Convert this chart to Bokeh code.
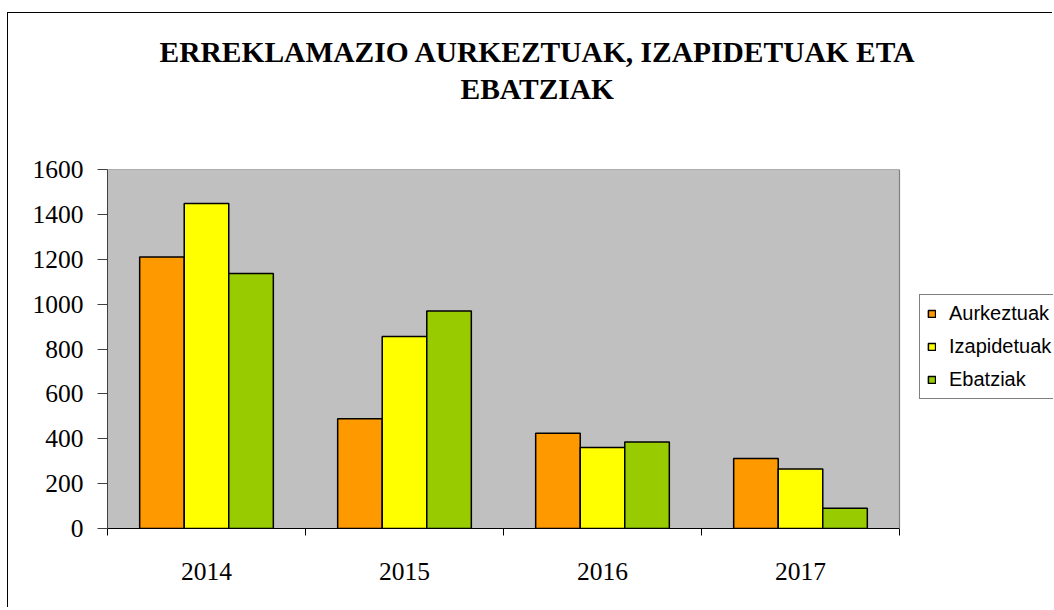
import numpy as np
from bokeh.plotting import figure
from bokeh.models import (Range1d, FixedTicker, Legend, LegendItem, Title, ColumnDataSource,
                          BoxAnnotation, Span)
from bokeh.embed import file_html
from bokeh.resources import INLINE

# ---- data ----
years = ["2014", "2015", "2016", "2017"]
aurkeztuak = [1210, 489, 425, 312]
izapidetuak = [1449, 856, 361, 265]
ebatziak = [1136, 969, 385, 90]
series_names = ["Aurkeztuak", "Izapidetuak", "Ebatziak"]
series_colors = ["#FF9900", "#FFFF00", "#99CC00"]
y_ticks = [0, 200, 400, 600, 800, 1000, 1200, 1400, 1600]
title_line1 = "ERREKLAMAZIO AURKEZTUAK, IZAPIDETUAK ETA"
title_line2 = "EBATZIAK"

n = len(years)
W, H = 1045, 595
left_border = 99
plot_px = 792  # width of the grey plotting area
x_end = n * (W - left_border) / plot_px  # extra room on the right for the legend

p = figure(width=W, height=H, x_range=Range1d(0, x_end), y_range=Range1d(0, 1600),
           output_backend="svg", toolbar_location=None, title_location=None,
           min_border_left=left_border, min_border_right=0, min_border_top=156, min_border_bottom=80)
p.styles = {"border-top": "1px solid black", "border-left": "1px solid black",
            "margin-top": "12px", "margin-left": "7px"}

p.background_fill_color = "white"
p.border_fill_color = "white"
p.outline_line_color = None

# grey plotting area
p.add_layout(BoxAnnotation(left=0, right=n, fill_color="#C0C0C0", fill_alpha=1.0,
                           line_color=None, level="underlay"))
# horizontal grid lines within the plotting area
p.segment(x0=[0] * len(y_ticks), x1=[n] * len(y_ticks), y0=y_ticks, y1=y_ticks,
          line_color="#505050", line_width=1.2, level="underlay")
p.add_layout(Span(location=n, dimension="height", line_color="#808080", line_width=1.2))

centers = np.arange(n) + 0.5
bar_w = 0.225
offsets = [-bar_w, 0.0, bar_w]
renderers = []
for vals, name, col, off in zip([aurkeztuak, izapidetuak, ebatziak], series_names, series_colors, offsets):
    src = ColumnDataSource(dict(x=centers + off, top=vals))
    r = p.vbar(x="x", top="top", bottom=0, width=bar_w, source=src, fill_color=col,
               line_color="black", line_width=1.5)
    renderers.append((name, r))

# y axis
p.yaxis.ticker = FixedTicker(ticks=y_ticks)
p.yaxis.major_tick_out = 10
p.yaxis.major_tick_in = 0
p.yaxis.minor_tick_line_color = None
p.yaxis.axis_line_color = "#404040"
p.yaxis.major_tick_line_color = "#404040"
p.yaxis.major_label_text_font = "Liberation Serif"
p.yaxis.major_label_text_font_size = "25.5px"
p.yaxis.major_label_text_color = "black"
p.yaxis.major_label_standoff = 14

# x axis
p.xaxis.bounds = (0, n)
p.xaxis.ticker = FixedTicker(ticks=list(centers), minor_ticks=list(range(n + 1)))
p.xaxis.major_label_overrides = {float(c): y for c, y in zip(centers, years)}
p.xaxis.major_tick_out = 0
p.xaxis.major_tick_in = 0
p.xaxis.minor_tick_out = 7
p.xaxis.minor_tick_in = 0
p.xaxis.minor_tick_line_color = "black"
p.xaxis.axis_line_color = "black"
p.xaxis.major_label_text_font = "Liberation Serif"
p.xaxis.major_label_text_font_size = "25.5px"
p.xaxis.major_label_text_color = "black"
p.xaxis.major_label_standoff = 27

p.xgrid.visible = False
p.ygrid.visible = False

legend = Legend(items=[LegendItem(label=nm, renderers=[r]) for nm, r in renderers],
                location=(812, 129), orientation="vertical",
                label_text_font="Liberation Sans", label_text_font_size="20px",
                label_text_color="black",
                glyph_width=9, glyph_height=9, label_height=20, spacing=10,
                padding=7, margin=0, label_standoff=13,
                border_line_color="black", border_line_width=1,
                background_fill_color="white", background_fill_alpha=1.0)
p.add_layout(legend, "center")

# titles (first added sits closest to the plot)
spacer = Title(text=" ", text_font_size="10px", standoff=50)
p.add_layout(spacer, "above")
t2 = Title(text=title_line2, align="left", offset=353, text_font="Liberation Serif",
           text_font_size="29.5px", text_font_style="bold", text_color="black", standoff=4)
p.add_layout(t2, "above")
t1 = Title(text=title_line1, align="left", offset=52, text_font="Liberation Serif",
           text_font_size="29.5px", text_font_style="bold", text_color="black", standoff=2)
p.add_layout(t1, "above")

open("out.html", "w").write(file_html(p, INLINE))
